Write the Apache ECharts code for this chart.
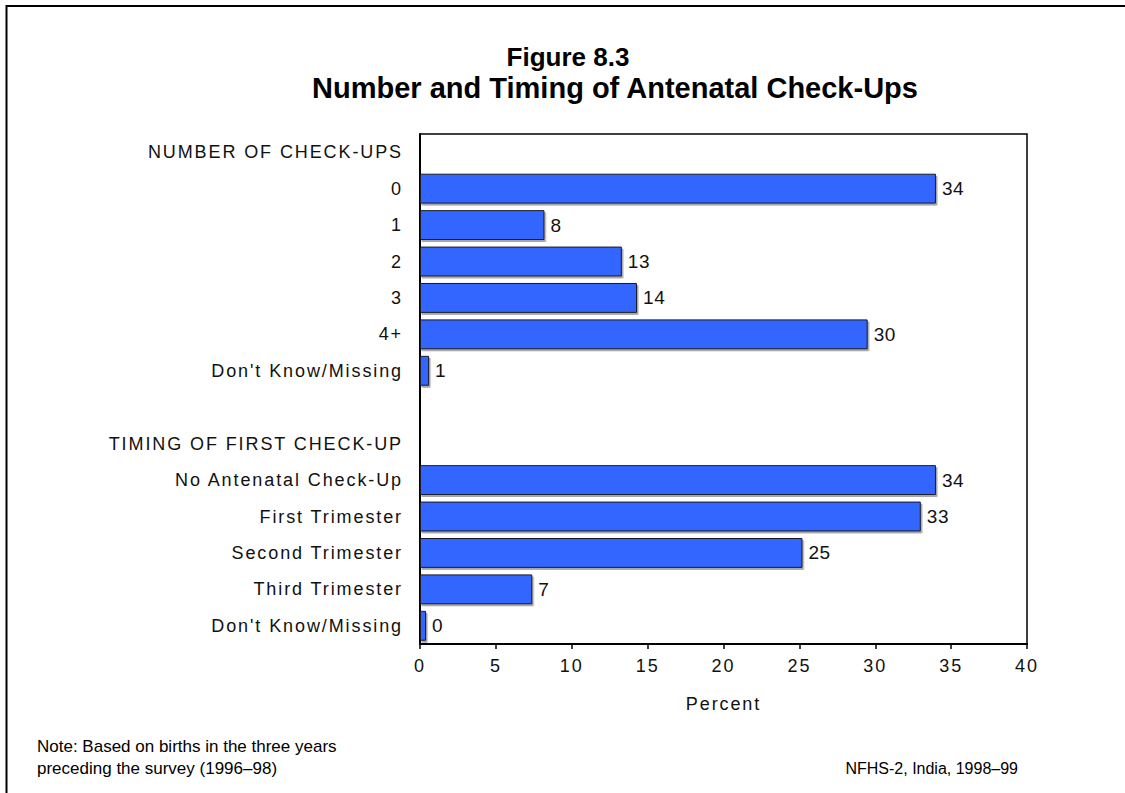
<!DOCTYPE html>
<html>
<head>
<meta charset="utf-8">
<script src="https://cdn.jsdelivr.net/npm/echarts@6/dist/echarts.min.js"></script>
<style>
  html, body { margin: 0; padding: 0; background: #fff; }
  #chart { width: 1125px; height: 793px; }
  /* tracked sans-serif for axis text and value labels */
  #chart svg text[style*="18px"] { letter-spacing: 1.9px; }
  #chart svg text[style*="19px"] { letter-spacing: 0.6px; }
</style>
</head>
<body>
<div id="chart"></div>
<script>
// Row labels down the vertical axis (group headings included as rows)
const categories = [
  'NUMBER OF CHECK-UPS',
  '0', '1', '2', '3', '4+', "Don't Know/Missing",
  '',
  'TIMING OF FIRST CHECK-UP',
  'No Antenatal Check-Up', 'First Trimester', 'Second Trimester', 'Third Trimester', "Don't Know/Missing"
];

// Percent of births for each row (null for heading/spacer rows)
const percentValues = [
  null,
  34.0, 8.2, 13.3, 14.3, 29.5, 0.6,
  null,
  null,
  34.0, 33.0, 25.2, 7.4, 0.4
];

// Percent axis ticks
const axisMin = 0;
const axisMax = 40;
const axisStep = 5;

const titleLine1 = 'Figure 8.3';
const titleLine2 = 'Number and Timing of Antenatal Check-Ups';
const noteLine1 = 'Note: Based on births in the three years';
const noteLine2 = 'preceding the survey (1996\u201398)';
const sourceText = 'NFHS-2, India, 1998\u201399';

const FONT = '"Liberation Sans", Arial, Helvetica, sans-serif';

const chart = echarts.init(document.getElementById('chart'), null, { renderer: 'svg' });

chart.setOption({
  backgroundColor: '#ffffff',
  animation: false,
  grid: {
    left: 420, top: 134, width: 607, height: 510,
    show: true, borderColor: '#000', borderWidth: 1.5, backgroundColor: 'transparent'
  },
  xAxis: {
    type: 'value',
    min: axisMin, max: axisMax, interval: axisStep,
    name: 'Percent',
    nameLocation: 'middle',
    nameGap: 51,
    nameTextStyle: { fontFamily: FONT, fontSize: 18, color: '#111' },
    axisLine: { show: true, onZero: false, lineStyle: { color: '#000', width: 2 } },
    axisTick: { show: true, inside: false, length: 5, lineStyle: { color: '#000', width: 1.5 } },
    axisLabel: { fontFamily: FONT, fontSize: 18, color: '#111', margin: 13 },
    splitLine: { show: false }
  },
  yAxis: {
    type: 'category',
    data: categories,
    inverse: true,
    axisLine: { show: true, lineStyle: { color: '#000', width: 2 } },
    axisTick: { show: false },
    axisLabel: { fontFamily: FONT, fontSize: 18, color: '#111', margin: 17, interval: 0 },
    splitLine: { show: false }
  },
  series: [{
    type: 'bar',
    data: percentValues,
    barCategoryGap: '18%',
    itemStyle: {
      color: '#3366FF',
      borderColor: '#1a1a2a',
      borderWidth: 1,
      shadowColor: 'rgba(0,0,0,0.35)',
      shadowOffsetX: 1.5,
      shadowOffsetY: 2,
      shadowBlur: 0
    },
    label: {
      show: true,
      position: 'right',
      distance: 6,
      fontFamily: FONT,
      fontSize: 19,
      color: '#111',
      formatter: p => (p.value == null ? '' : String(Math.round(p.value)))
    }
  }],
  graphic: [
    {
      type: 'rect', silent: true,
      shape: { x: 6.5, y: 6, width: 1140, height: 820 },
      style: { fill: 'none', stroke: '#000', lineWidth: 2 }
    },
    {
      type: 'text', x: 568, y: 57,
      style: { text: titleLine1, fontFamily: FONT, fontSize: 26, fontWeight: 'bold', fill: '#000', textAlign: 'center', textVerticalAlign: 'middle' }
    },
    {
      type: 'text', x: 615, y: 88,
      style: { text: titleLine2, fontFamily: FONT, fontSize: 29, fontWeight: 'bold', fill: '#000', textAlign: 'center', textVerticalAlign: 'middle' }
    },
    {
      type: 'text', x: 37, y: 746,
      style: { text: noteLine1, fontFamily: FONT, fontSize: 17, fill: '#000', textAlign: 'left', textVerticalAlign: 'middle' }
    },
    {
      type: 'text', x: 37, y: 768,
      style: { text: noteLine2, fontFamily: FONT, fontSize: 17, fill: '#000', textAlign: 'left', textVerticalAlign: 'middle' }
    },
    {
      type: 'text', x: 1018, y: 768,
      style: { text: sourceText, fontFamily: FONT, fontSize: 16, fill: '#000', textAlign: 'right', textVerticalAlign: 'middle' }
    }
  ]
});
</script>
</body>
</html>
